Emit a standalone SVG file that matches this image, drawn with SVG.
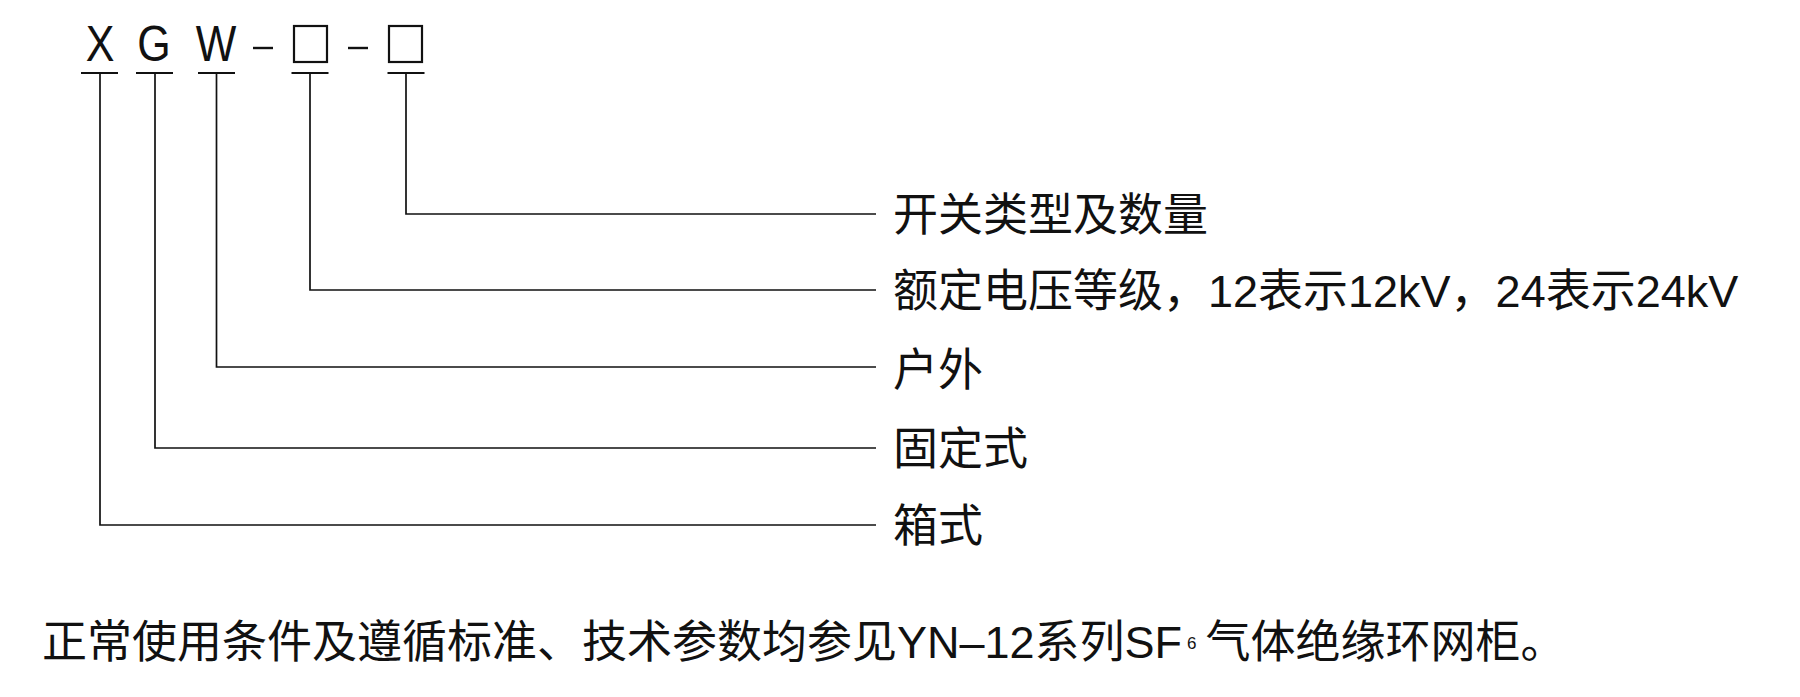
<svg xmlns="http://www.w3.org/2000/svg" width="1800" height="697" viewBox="0 0 1800 697">
<style>
.ln{fill:none;stroke:#111;stroke-width:1.7}
.ul{stroke:#111;stroke-width:1.8}
.dash{stroke:#111;stroke-width:2.4}
.box{fill:none;stroke:#111;stroke-width:2.2}
.code{font-family:"Liberation Sans",Arial,sans-serif;font-size:50px;fill:#111}
.lbl{font-family:"Liberation Sans","Noto Sans CJK SC",sans-serif;font-size:45px;fill:#111}
.sub{font-family:"Liberation Sans",sans-serif;font-size:17px}
</style>
<rect width="1800" height="697" fill="#fff"/>
<g id="code">
<text class="code" text-anchor="middle" transform="translate(100,61) scale(0.86,1)">X</text>
<text class="code" text-anchor="middle" transform="translate(154,61) scale(0.86,1)">G</text>
<text class="code" text-anchor="middle" transform="translate(216,61) scale(0.86,1)">W</text>
<line class="dash" x1="253" y1="48" x2="273" y2="48"/>
<rect class="box" x="294" y="26" width="33" height="36"/>
<line class="dash" x1="348" y1="48" x2="368" y2="48"/>
<rect class="box" x="389" y="26" width="33" height="36"/>
<line class="ul" x1="81" y1="73" x2="118" y2="73"/>
<line class="ul" x1="136" y1="73" x2="173" y2="73"/>
<line class="ul" x1="198" y1="73" x2="235" y2="73"/>
<line class="ul" x1="291.5" y1="73" x2="328.5" y2="73"/>
<line class="ul" x1="387.5" y1="73" x2="424.5" y2="73"/>
</g>
<g id="connectors">
<path class="ln" d="M406,73V214H876"/>
<path class="ln" d="M310,73V290H876"/>
<path class="ln" d="M216.5,73V367H876"/>
<path class="ln" d="M155,73V448H876"/>
<path class="ln" d="M100,73V525H876"/>
</g>
<g id="label-switch"><text class="lbl" x="893" y="231">开关类型及数量</text></g>
<g id="label-voltage"><text class="lbl" x="893" y="307">额定电压等级，12表示12kV，24表示24kV</text></g>
<g id="label-outdoor"><text class="lbl" x="893" y="386">户外</text></g>
<g id="label-fixed"><text class="lbl" x="893" y="465">固定式</text></g>
<g id="label-box"><text class="lbl" x="893" y="542">箱式</text></g>
<g id="note">
<text class="lbl" x="42" y="658">正常使用条件及遵循标准、技术参数均参见YN–12系列SF<tspan class="sub" dx="5" dy="-9">6</tspan><tspan dx="9" dy="9">气体绝缘环网柜。</tspan></text>
</g>
</svg>
